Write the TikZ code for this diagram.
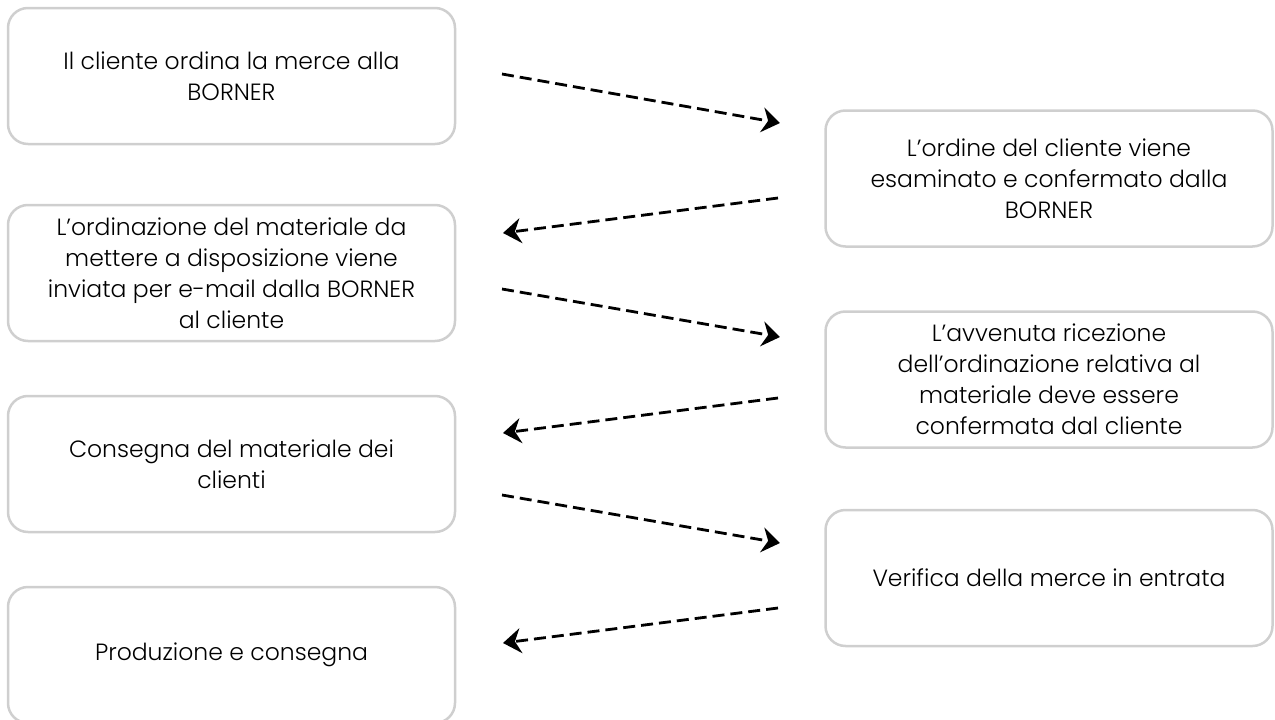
\documentclass[tikz,border=0pt]{standalone}
\usepackage{fontspec}
\setmainfont{Poppins}[UprightFont=* Light]
\usetikzlibrary{arrows.meta}
\definecolor{boxgray}{HTML}{CFCFCF}
\tikzset{
  stepbox/.style={draw=boxgray, line width=2.5pt, rounded corners=20pt,
    minimum width=447pt, minimum height=136pt, align=center, inner sep=0pt,
    font=\fontsize{23.5}{31}\selectfont, text=black},
  flowarrow/.style={line width=2.8pt, dash pattern=on 12pt off 6pt,
    -{Stealth[length=18pt,width=25pt,inset=6pt]}}
}
\begin{document}
\begin{tikzpicture}[x=1pt,y=-1pt]
\useasboundingbox (0,0) rectangle (1275,720);
\clip (0,0) rectangle (1275,720);
\node[stepbox] (b1) at (231.5,76) {Il cliente ordina la merce alla\\BORNER};
\node[stepbox] (b2) at (231.5,273) {L’ordinazione del materiale da\\mettere a disposizione viene\\inviata per e-mail dalla BORNER\\al cliente};
\node[stepbox] (b3) at (231.5,464) {Consegna del materiale dei\\clienti};
\node[stepbox] (b4) at (231.5,655) {Produzione e consegna};
\node[stepbox] (ra) at (1049,178.5) {L’ordine del cliente viene\\esaminato e confermato dalla\\BORNER};
\node[stepbox] (rb) at (1049,379.5) {L’avvenuta ricezione\\dell’ordinazione relativa al\\materiale deve essere\\confermata dal cliente};
\node[stepbox] (rc) at (1049,578) {Verifica della merce in entrata};
\coordinate (a1s) at (502,74);  \coordinate (a1e) at (780,123);
\coordinate (a2s) at (778,198); \coordinate (a2e) at (503,233);
\coordinate (a3s) at (502,289); \coordinate (a3e) at (780,337);
\coordinate (a4s) at (778,398); \coordinate (a4e) at (503,433);
\coordinate (a5s) at (502,495); \coordinate (a5e) at (780,543);
\coordinate (a6s) at (778,608); \coordinate (a6e) at (503,643);
\draw[flowarrow] (a1s) -- (a1e);
\draw[flowarrow] (a2s) -- (a2e);
\draw[flowarrow] (a3s) -- (a3e);
\draw[flowarrow] (a4s) -- (a4e);
\draw[flowarrow] (a5s) -- (a5e);
\draw[flowarrow] (a6s) -- (a6e);
\end{tikzpicture}
\end{document}
